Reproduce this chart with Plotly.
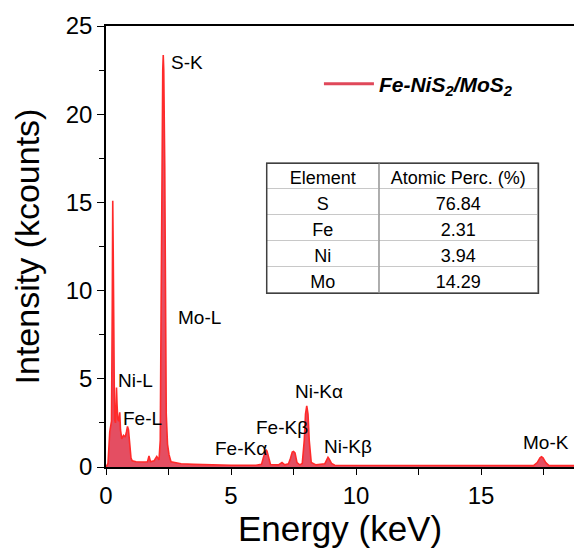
import plotly.graph_objects as go

# EDS spectrum, energy (keV) vs intensity (kcounts)
energy = [0.00, 0.08, 0.15, 0.22, 0.25, 0.27, 0.29, 0.31, 0.34, 0.38, 0.42, 0.44, 0.47,
          0.51, 0.55, 0.58, 0.63, 0.70, 0.77, 0.82, 0.86, 0.90, 0.95, 1.00, 1.05,
          1.20, 1.50, 1.66, 1.72, 1.78, 1.92, 2.03, 2.12, 2.17, 2.20, 2.23, 2.27,
          2.29, 2.31, 2.35, 2.38, 2.41, 2.46, 2.52, 2.60, 2.80, 3.00, 3.50, 4.00,
          5.00, 6.00, 6.22, 6.30, 6.36, 6.40, 6.44, 6.50, 6.58, 6.90, 7.04, 7.15,
          7.30, 7.38, 7.45, 7.50, 7.56, 7.64, 7.75, 7.85, 7.93, 7.98, 8.03, 8.08,
          8.13, 8.21, 8.40, 8.75, 8.83, 8.88, 8.93, 9.02, 9.15, 12.00, 17.10,
          17.25, 17.36, 17.42, 17.48, 17.59, 17.72, 19.00]
counts = [0.00, 0.20, 2.00, 2.60, 9.00, 15.10, 12.00, 4.00, 2.70, 2.50, 4.50, 3.60, 2.70,
          2.60, 3.10, 2.10, 1.60, 1.80, 1.70, 2.00, 2.30, 2.10, 1.20, 0.50, 0.35,
          0.30, 0.28, 0.30, 0.62, 0.30, 0.35, 0.60, 0.40, 1.50, 8.00, 17.00, 22.50,
          23.35, 22.50, 17.00, 8.00, 3.00, 1.30, 0.70, 0.30, 0.22, 0.18, 0.15, 0.12,
          0.10, 0.10, 0.15, 0.55, 0.90, 0.98, 0.90, 0.50, 0.14, 0.12, 0.25, 0.12,
          0.18, 0.50, 0.85, 0.88, 0.80, 0.25, 0.12, 0.20, 1.50, 3.00, 3.46, 3.00,
          1.50, 0.25, 0.12, 0.18, 0.45, 0.55, 0.45, 0.20, 0.10, 0.08, 0.08,
          0.25, 0.52, 0.58, 0.52, 0.25, 0.08, 0.08]

# Peak labels
peak_labels = ["S-K", "Mo-L", "Ni-L", "Fe-L", "Fe-Kα", "Fe-Kβ", "Ni-Kα", "Ni-Kβ", "Mo-K"]
label_x = [2.52, 2.80, 0.38, 0.60, 4.29, 5.92, 7.47, 8.63, 16.59]
label_y = [22.95, 8.50, 4.90, 2.76, 1.06, 2.26, 4.26, 1.14, 1.40]

# Composition table
elements = ["S", "Fe", "Ni", "Mo"]
atomic_perc = ["76.84", "2.31", "3.94", "14.29"]

FONT = "Arial, Liberation Sans, sans-serif"

fig = go.Figure()

fig.add_trace(go.Scatter(
    x=energy, y=counts, mode="lines", fill="tozeroy",
    line=dict(color="#ff2a2a", width=1.6),
    fillcolor="rgb(228,78,98)",
    showlegend=False, hoverinfo="x+y",
))

# Legend entry drawn as a plain line
fig.add_trace(go.Scatter(
    x=[None], y=[None], mode="lines",
    line=dict(color="#e0485a", width=3),
    name="<b><i>Fe-NiS<sub>2</sub>/MoS<sub>2</sub></i></b>",
    showlegend=True,
))

fig.add_trace(go.Table(
    domain=dict(x=[0.3434, 0.9240], y=[0.3920, 0.6900]),
    columnwidth=[112, 159],
    header=dict(values=["Element", "Atomic Perc. (%)"],
                fill_color="white", line_color="#c8c8c8", height=26,
                font=dict(family=FONT, size=18, color="black"), align="center"),
    cells=dict(values=[elements, atomic_perc],
               fill_color="white", line_color="#c8c8c8", height=26,
               font=dict(family=FONT, size=18, color="black"), align="center"),
))

for t, xv, yv in zip(peak_labels, label_x, label_y):
    fig.add_annotation(x=xv, y=yv, text=t, showarrow=False, xanchor="left",
                       yanchor="middle", font=dict(family=FONT, size=19, color="black"))

# Table frame and column divider
fig.add_shape(type="rect", xref="paper", yref="paper",
              x0=0.3434, x1=0.9240, y0=0.3940, y1=0.6885,
              line=dict(color="#404040", width=1.5))
fig.add_shape(type="line", xref="paper", yref="paper",
              x0=0.5836, x1=0.5836, y0=0.3940, y1=0.6885,
              line=dict(color="#909090", width=1.2))

fig.update_layout(
    width=574, height=548,
    margin=dict(l=106, r=0, t=26, b=81),
    paper_bgcolor="white", plot_bgcolor="white",
    font=dict(family=FONT, color="black"),
    legend=dict(x=0.455, y=0.868, xanchor="left", yanchor="middle",
                bgcolor="rgba(0,0,0,0)", font=dict(family=FONT, size=21, color="black"),
                itemwidth=50),
    xaxis=dict(range=[0, 18.72], showgrid=False, zeroline=False,
               showline=True, linecolor="black", linewidth=1.5, mirror=True,
               ticks="outside", ticklen=6, tickwidth=1.2, tickcolor="black",
               tick0=0, dtick=5,
               minor=dict(ticks="outside", ticklen=6, tickwidth=1.2, dtick=2.5, tickcolor="black"),
               tickfont=dict(family=FONT, size=24),
               title=dict(text="Energy (keV)", font=dict(family=FONT, size=35), standoff=6)),
    yaxis=dict(range=[0, 25], showgrid=False, zeroline=False,
               showline=True, linecolor="black", linewidth=1.5,
               ticks="outside", ticklen=7, tickwidth=1.2, tickcolor="black",
               tick0=0, dtick=5,
               minor=dict(ticks="outside", ticklen=5, tickwidth=1.2, dtick=2.5, tickcolor="black"),
               tickfont=dict(family=FONT, size=24),
               title=dict(text="Intensity (kcounts)", font=dict(family=FONT, size=34), standoff=16)),
)

fig.write_html("out.html")
